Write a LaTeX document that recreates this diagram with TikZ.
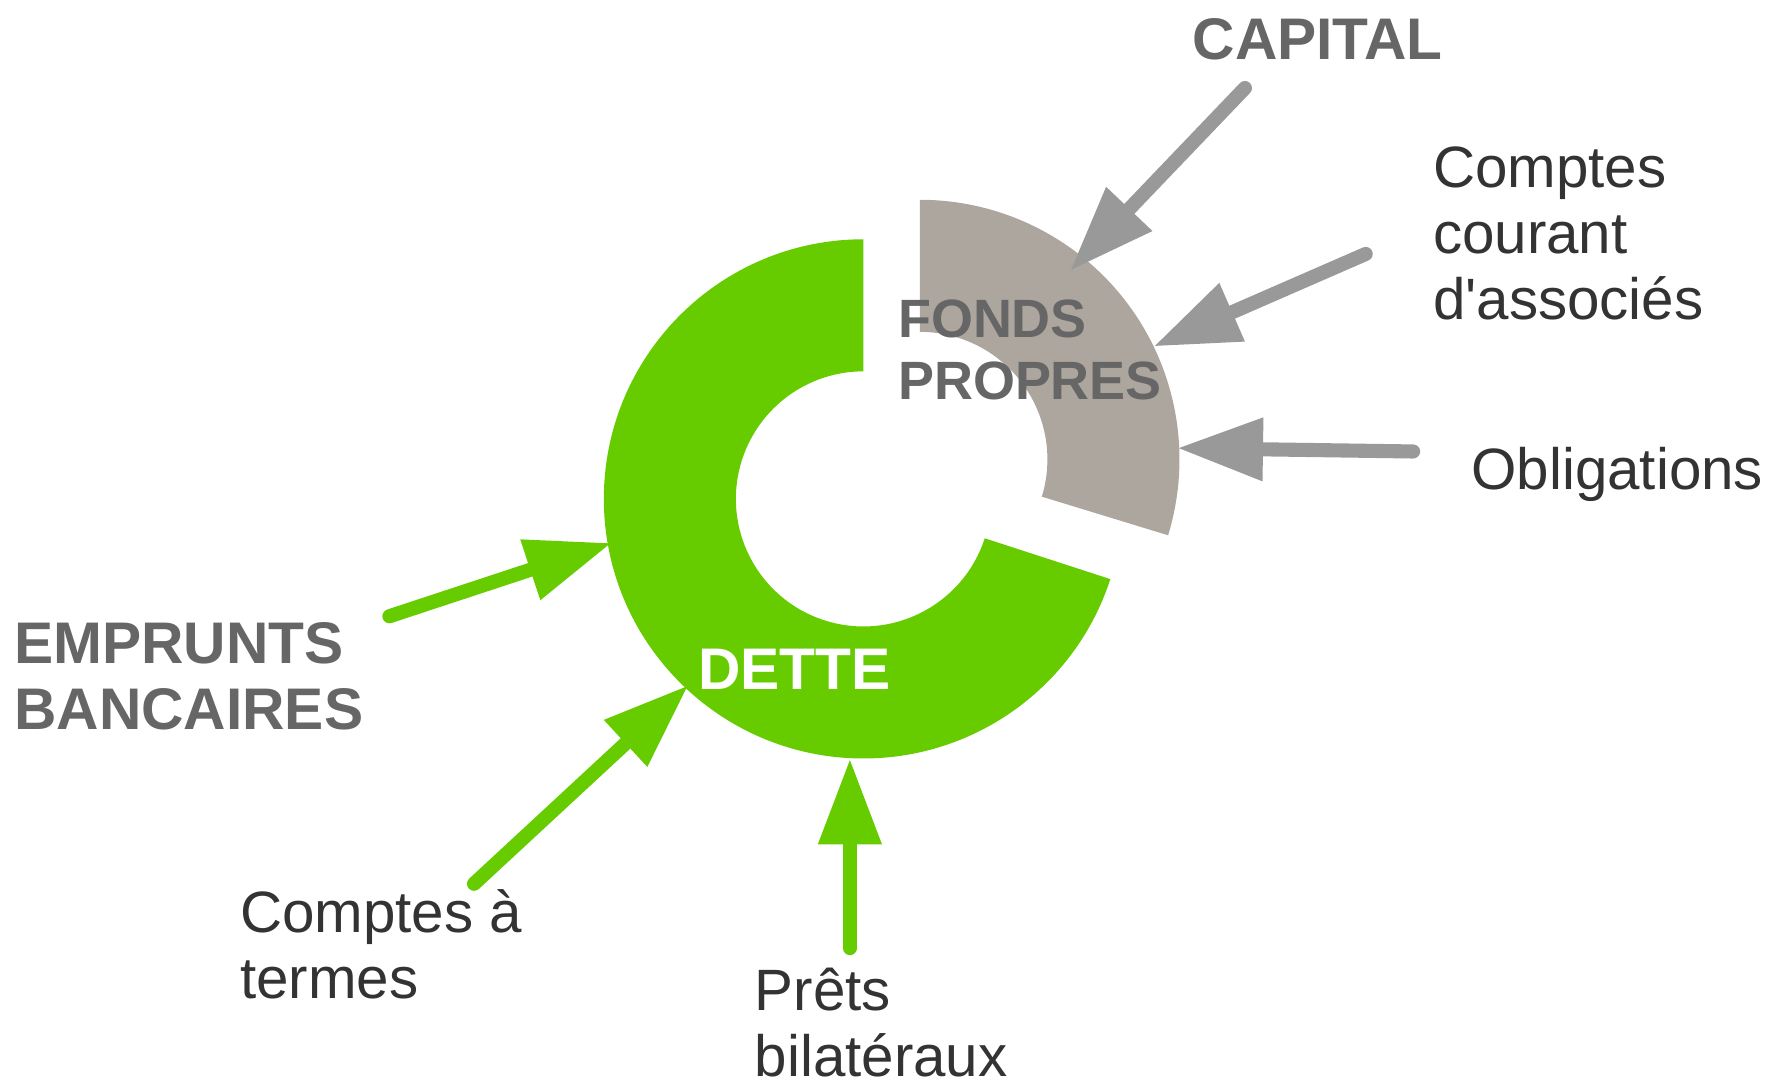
\documentclass[tikz,border=0pt]{standalone}
\usepackage{fontspec}
\setmainfont{Liberation Sans}
\usetikzlibrary{arrows.meta, positioning, calc}
\definecolor{dettegreen}{HTML}{66CC00}
\definecolor{fondsgray}{HTML}{ADA69F}
\definecolor{arrowgray}{HTML}{999999}
\definecolor{titlegray}{HTML}{666666}
\definecolor{textdark}{HTML}{333333}
\tikzstyle{heading} = [inner sep=0pt, align=left, text=titlegray, font=\fontsize{14.8}{16.6}\selectfont\bfseries]
\tikzstyle{item} = [inner sep=0pt, align=left, text=textdark, font=\fontsize{14.7}{16.6}\selectfont]
\tikzstyle{greenarrow} = [draw=dettegreen, line width=1.25mm, line cap=round, -{Triangle[length=7.6mm, width=5.3mm]}]
\tikzstyle{grayarrow} = [draw=arrowgray, line width=1.25mm, line cap=round, -{Triangle[length=7.6mm, width=5.3mm]}]

\begin{document}
\begin{tikzpicture}[x=0.1mm, y=0.1mm]
\useasboundingbox (0,0) rectangle (1570,956);

% donut
\coordinate (dc) at (765,514);
\coordinate (fc) at (815,549);
\fill[dettegreen] ($(dc)+(90:230)$) arc[start angle=90, end angle=342, radius=230] -- ($(dc)+(342:113)$) arc[start angle=342, end angle=90, radius=113] -- cycle;
\fill[fondsgray] ($(fc)+(90:230)$) arc[start angle=90, end angle=-17, radius=230] -- ($(fc)+(-17:113)$) arc[start angle=-17, end angle=90, radius=113] -- cycle;

% labels
\node (fonds) [heading, anchor=west, font=\fontsize{13.6}{15.5}\selectfont\bfseries] at (795,646) {FONDS\\PROPRES};
\node (dette) [heading, text=white] at (704,363) {DETTE};
\node (capital) [heading, anchor=west] at (1056,921) {CAPITAL};
\node (courant) [item, anchor=west] at (1269,749) {Comptes\\courant\\d\textquotesingle associés};
\node (oblig) [item, anchor=west] at (1303,536) {Obligations};
\node (emprunts) [heading, anchor=west] at (12,357) {EMPRUNTS\\BANCAIRES};
\node (termes) [item, anchor=west] at (212,119) {Comptes à\\termes};
\node (prets) [item, anchor=west] at (668,50) {Prêts\\bilatéraux};

% arrows
\coordinate (capitaltail) at (1103,878);
\coordinate (capitaltip) at (948,716);
\coordinate (couranttail) at (1210,731);
\coordinate (couranttip) at (1022,649);
\coordinate (obligtail) at (1252,556);
\coordinate (obligtip) at (1043,559);
\coordinate (empruntstail) at (345,410);
\coordinate (empruntstip) at (542,475);
\coordinate (termestail) at (420,173);
\coordinate (termestip) at (610,349);
\coordinate (pretstail) at (753,116);
\coordinate (pretstip) at (753,284);

\draw[grayarrow] (capitaltail) -- (capitaltip);
\draw[grayarrow] (couranttail) -- (couranttip);
\draw[grayarrow] (obligtail) -- (obligtip);
\draw[greenarrow] (empruntstail) -- (empruntstip);
\draw[greenarrow] (termestail) -- (termestip);
\draw[greenarrow] (pretstail) -- (pretstip);
\end{tikzpicture}
\end{document}
